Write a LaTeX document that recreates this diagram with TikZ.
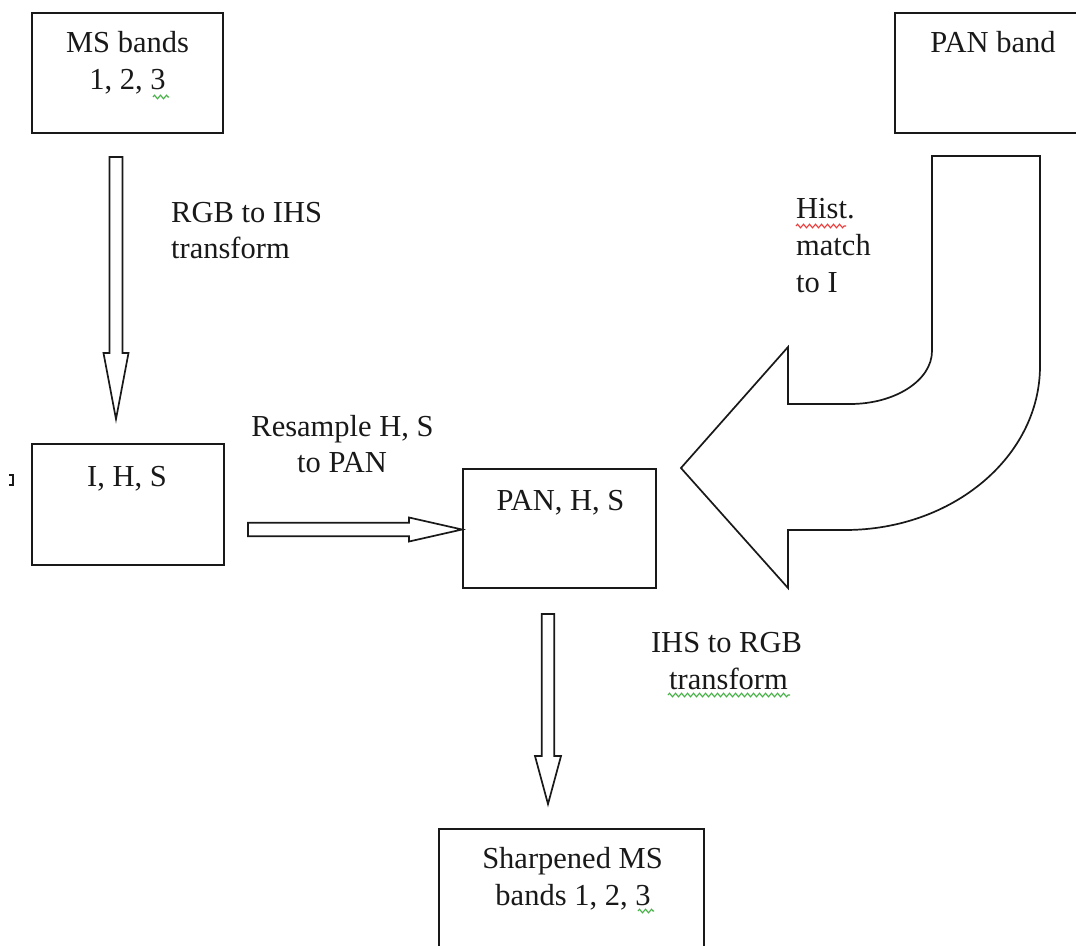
\documentclass[tikz,border=0pt]{standalone}
\usepackage{fontspec}
\setmainfont{Liberation Serif}
\usetikzlibrary{calc,decorations.pathmorphing}

% hollow block arrow pointing down: start, tip, shaft half width, head half width, head length
\newcommand\blockdown[5]{%
  \draw[hollow] let \p1=(#1), \p2=(#2) in
    (\x1-#3,\y1) -- (\x1+#3,\y1) -- (\x1+#3,\y2+#5) -- (\x1+#4,\y2+#5) -- (\x2,\y2)
    -- (\x1-#4,\y2+#5) -- (\x1-#3,\y2+#5) -- cycle;}
% hollow block arrow pointing right
\newcommand\blockright[5]{%
  \draw[hollow] let \p1=(#1), \p2=(#2) in
    (\x1,\y1+#3) -- (\x2-#5,\y1+#3) -- (\x2-#5,\y1+#4) -- (\x2,\y2)
    -- (\x2-#5,\y1-#4) -- (\x2-#5,\y1-#3) -- (\x1,\y1-#3) -- cycle;}

\definecolor{ink}{RGB}{25,25,25}
\definecolor{spellred}{RGB}{235,60,60}
\definecolor{spellgreen}{RGB}{70,175,70}

\begin{document}
\begin{tikzpicture}[x=1pt,y=-1pt,
  box/.style={draw=ink,line width=1.9pt,rectangle,inner sep=0pt},
  txt/.style={anchor=base,inner sep=0pt,text=ink,font=\fontsize{30.5}{37}\selectfont},
  ltxt/.style={txt,anchor=base west},
  hollow/.style={draw=ink,line width=1.7pt,line join=miter,fill=white},
  squiggle/.style={line width=1.1pt,decorate,decoration={zigzag,segment length=6pt,amplitude=1.8pt}}]
\useasboundingbox[fill=white] (0,0) rectangle (1076,945);

% boxes
\node[box,minimum width=191pt,minimum height=120pt] (ms) at (127.5,73) {};
\node[box,minimum width=200pt,minimum height=120pt] (pan) at (995,73) {};
\node[box,minimum width=192pt,minimum height=121pt] (ihs) at (128,504.5) {};
\node[box,minimum width=193pt,minimum height=119pt] (phs) at (559.5,528.5) {};
\node[box,minimum width=265pt,minimum height=136pt] (sharp) at (571.5,897) {};

% box texts
\node[txt] (ms1) at (127.5,52) {MS bands};
\node[txt] (ms2) at (127.5,89) {1, 2, 3};
\node[txt] (pan1) at (993,52) {PAN band};
\node[txt] (ihs1) at (127,486) {I, H, S};
\node[txt] (phs1) at (560.5,510) {PAN, H, S};
\node[txt] (sh1) at (572.5,868) {Sharpened MS};
\node[txt] (sh2) at (573,905) {bands 1, 2, 3};

% arrow labels
\node[ltxt] (rgb1) at (171,222) {RGB to IHS};
\node[ltxt] (rgb2) at (171,258) {transform};
\node[txt] (res1) at (342.5,436) {Resample H, S};
\node[txt] (res2) at (342,472.5) {to PAN};
\node[ltxt] (hist1) at (796,218) {Hist.};
\node[ltxt] (hist2) at (796,255) {match};
\node[ltxt] (hist3) at (796,292) {to I};
\node[txt] (inv1) at (726.5,652) {IHS to RGB};
\node[txt] (inv2) at (728.5,689) {transform};

% spelling marks under words
\draw[squiggle,spellgreen] (153,97) -- (169,97);
\draw[squiggle,spellgreen] (638,911) -- (654,911);
\draw[squiggle,spellgreen] (668,695) -- (790,695);
\draw[squiggle,spellred] (796,226) -- (846,226);

% stray glyph fragment at the left edge
\draw[ink,line width=1.8pt] (9,475) -- (13,475) -- (13,485) -- (9,485);

% block arrows between boxes
\coordinate (a1s) at ($(ms.south)+(-11.5,23)$);
\coordinate (a1e) at ($(ihs.north)+(-12,-24)$);
\blockdown{a1s}{a1e}{6.5pt}{12.5pt}{66pt}

\coordinate (a2s) at ($(ihs.east)+(23,25)$);
\coordinate (a2e) at ($(phs.west)+(0,1)$);
\blockright{a2s}{a2e}{6.7pt}{12pt}{53pt}

\coordinate (a3s) at ($(phs.south)+(-11.5,25)$);
\coordinate (a3e) at ($(sharp.north)+(-23.5,-24)$);
\blockdown{a3s}{a3e}{6.3pt}{13pt}{48pt}

% bent arrow from the PAN band towards PAN, H, S
\coordinate (bt) at ($(phs.east)+(24,-60.5)$);
\draw[hollow] (932,156) -- (1040,156) -- (1040,366)
  arc[start angle=0,end angle=90,x radius=195,y radius=164]
  -- (788,530) -- (788,588) -- (bt) -- (788,347) -- (788,404) -- (850,404)
  arc[start angle=90,end angle=0,x radius=82,y radius=53]
  -- cycle;
\end{tikzpicture}
\end{document}
